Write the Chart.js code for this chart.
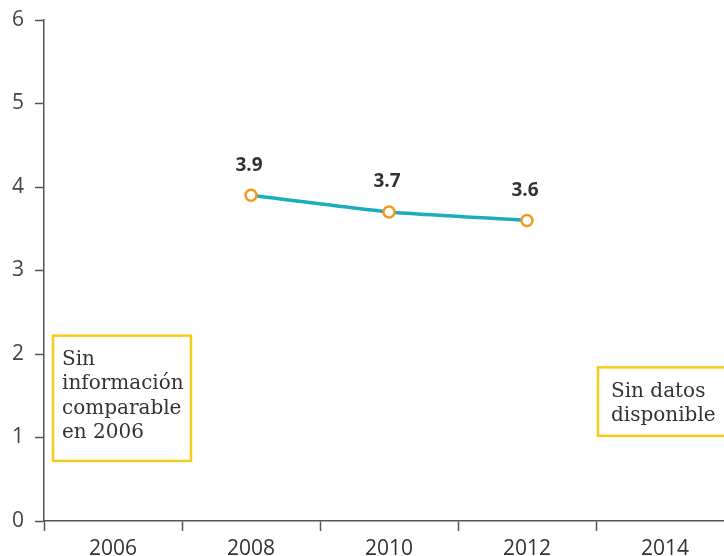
<!DOCTYPE html>
<html>
<head>
<meta charset="utf-8">
<script src="https://cdn.jsdelivr.net/npm/chart.js@4.4.1/dist/chart.umd.min.js"></script>
<style>
    html, body { margin: 0; padding: 0; background: #fff; overflow: hidden; }
    #grafico { display: block; }
</style>
</head>
<body>
<canvas id="grafico" width="734" height="556"></canvas>
<script>
// Datos del gráfico
const years = ['2006', '2008', '2010', '2012', '2014'];
const values = [null, 3.9, 3.7, 3.6, null];
const valueLabels = ['', '3.9', '3.7', '3.6', ''];
const yTicks = [0, 1, 2, 3, 4, 5, 6];

// Notas en recuadros (categoría, límites en valores del eje y, líneas de texto)
const notes = [
    { cat: '2006', yTop: 2.22, yBottom: 0.72, padL: 9, padR: -9, textX: 9, lines: ['Sin', 'información', 'comparable', 'en 2006'] },
    { cat: '2014', yTop: 1.84, yBottom: 1.02, padL: 2, padR: -20, textX: 13, lines: ['Sin datos', 'disponible'] }
];

const axisColor = '#555';
const tickFont = { family: 'Open Sans', size: 21 };

// Etiquetas de valor encima de los puntos
const valueLabelPlugin = {
    id: 'valueLabels',
    afterDatasetsDraw(chart) {
        const ctx = chart.ctx;
        const meta = chart.getDatasetMeta(0);
        ctx.save();
        ctx.font = 'bold 19px "Open Sans"';
        ctx.fillStyle = '#333';
        ctx.textAlign = 'center';
        ctx.textBaseline = 'middle';
        meta.data.forEach((pt, i) => {
            if (values[i] === null) return;
            ctx.fillText(valueLabels[i], pt.x - 2, pt.y - 30);
        });
        ctx.restore();
    }
};

// Recuadros amarillos con texto
const notesPlugin = {
    id: 'notes',
    afterDraw(chart) {
        const ctx = chart.ctx;
        const x = chart.scales.x;
        const y = chart.scales.y;
        const half = (x.getPixelForValue(1) - x.getPixelForValue(0)) / 2;
        ctx.save();
        notes.forEach(n => {
            const cx = x.getPixelForValue(years.indexOf(n.cat));
            const left = cx - half + n.padL;
            const right = cx + half - n.padR;
            const top = y.getPixelForValue(n.yTop);
            const bottom = y.getPixelForValue(n.yBottom);
            ctx.strokeStyle = '#F7CB1A';
            ctx.lineWidth = 2.5;
            ctx.strokeRect(left, top, right - left, bottom - top);
            ctx.font = '20px "DejaVu Serif"';
            ctx.fillStyle = '#333';
            ctx.textAlign = 'left';
            ctx.textBaseline = 'middle';
            n.lines.forEach((t, i) => {
                ctx.fillText(t, left + n.textX, top + 24 + i * 24.5);
            });
        });
        ctx.restore();
    }
};

new Chart(document.getElementById('grafico'), {
    type: 'line',
    data: {
        labels: years,
        datasets: [{
            data: values,
            borderColor: '#1BADBE',
            borderWidth: 3.5,
            pointBackgroundColor: '#fff',
            pointBorderColor: '#F39A1E',
            pointBorderWidth: 2.5,
            pointRadius: 5.5,
            tension: 0.15,
            spanGaps: false
        }]
    },
    options: {
        responsive: false,
        animation: false,
        layout: { autoPadding: false, padding: { top: 20, right: 0, left: 0, bottom: 0 } },
        plugins: {
            legend: { display: false },
            tooltip: { enabled: false }
        },
        scales: {
            x: {
                offset: true,
                grid: { offset: true, drawOnChartArea: false, tickLength: 10, color: axisColor, tickWidth: 1.5 },
                border: { color: axisColor, width: 1.5 },
                ticks: { color: '#333', font: tickFont, padding: 5, maxRotation: 0 },
                afterFit(s) { s.height = 35; }
            },
            y: {
                min: 0,
                max: 6,
                afterBuildTicks(s) { s.ticks = yTicks.map(v => ({ value: v })); },
                grid: { drawOnChartArea: false, tickLength: 9, color: axisColor, tickWidth: 1.5 },
                border: { color: axisColor, width: 1.5 },
                ticks: { color: '#444', font: tickFont, padding: 11 },
                afterFit(s) { s.width = 44; s.paddingTop = 0; s.paddingBottom = 0; }
            }
        }
    },
    plugins: [valueLabelPlugin, notesPlugin]
});
</script>
</body>
</html>
